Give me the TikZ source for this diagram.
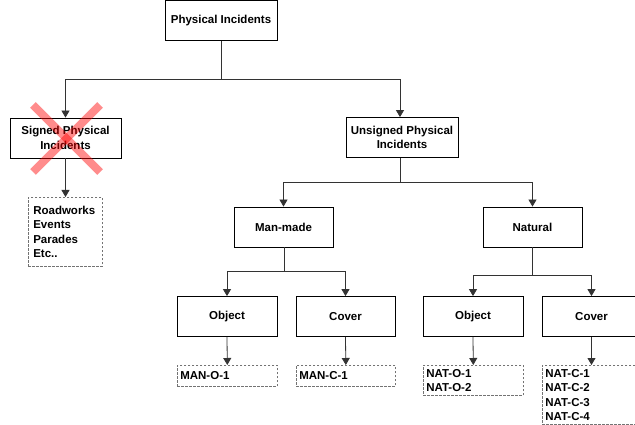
\documentclass[tikz,border=0pt]{standalone}
\usepackage{fontspec}
\setmainfont{Liberation Sans}
\usetikzlibrary{arrows.meta}
\tikzset{
  fnt/.style={font=\bfseries\fontsize{11.5}{14.5}\selectfont},
  box/.style={draw=black, line width=0.8pt, fill=white, fnt, align=center, inner sep=2pt, minimum height=40pt},
  dbox/.style={draw=black!55, line width=0.6pt, dash pattern=on 2.5pt off 1.5pt, fnt, align=left, anchor=north west, inner sep=3pt},
  conn/.style={line width=0.8pt, draw=black!80},
  arr/.style={conn, -{Triangle[length=7pt,width=8pt]}},
  cross/.style={draw=red, opacity=0.45, line width=8pt}
}
\begin{document}
\begin{tikzpicture}[x=1pt,y=-1pt]
\useasboundingbox (0,0) rectangle (635,425);
% main boxes
\node[box, minimum width=112pt] (PI) at (221,20.5) {Physical Incidents};
\node[box, minimum width=111pt] (SPI) at (65.5,138) {Signed Physical\\Incidents};
\node[box, minimum width=112pt] (UPI) at (402,137.5) {Unsigned Physical\\Incidents};
\node[box, minimum width=99pt] (MM) at (283.5,227) {Man-made};
\node[box, minimum width=99pt] (NAT) at (532.5,227) {Natural};
\node[box, minimum width=100pt] (MO) at (227,316.5) {Object};
\node[box, minimum width=99pt] (MC) at (345.5,316.5) {Cover};
\node[box, minimum width=100pt] (NO) at (473,316.5) {Object};
\node[box, minimum width=99pt] (NC) at (591.5,316.5) {Cover};
% dashed lists
\node[dbox, text width=64pt, inner xsep=5pt, minimum height=69pt] (SD) at (28,197) {Roadworks\\Events\\Parades\\Etc..};
\node[dbox, text width=94pt, minimum height=21pt] (MOD) at (177,365) {MAN-O-1};
\node[dbox, text width=93pt, minimum height=21pt] (MCD) at (296,365) {MAN-C-1};
\node[dbox, text width=94pt, minimum height=30pt] (NOD) at (423,365) {NAT-O-1\\NAT-O-2};
\node[dbox, text width=93pt, minimum height=59pt] (NCD) at (542,365) {NAT-C-1\\NAT-C-2\\NAT-C-3\\NAT-C-4};
% junctions
\coordinate (j1) at (221,79);
\coordinate (j2) at (400,182);
\coordinate (j3) at (284,271.5);
\coordinate (j4) at (532,275.5);
% connectors
\draw[conn] (PI.south) -- (j1);
\draw[arr] (j1) -| (SPI.north);
\draw[arr] (j1) -| ([xshift=-2pt]UPI.north);
\draw[conn] ([xshift=-2pt]UPI.south) -- (j2);
\draw[arr] (j2) -| (MM.north);
\draw[arr] (j2) -| (NAT.north);
\draw[conn] (MM.south -| j3) -- (j3);
\draw[arr] (j3) -| (MO.north);
\draw[arr] (j3) -| (MC.north);
\draw[conn] (NAT.south -| j4) -- (j4);
\draw[arr] (j4) -| (NO.north);
\draw[arr] (j4) -| (NC.north);
\draw[arr] (SPI.south) -- (SPI.south |- SD.north);
\draw[arr] (MO.south) -- (MOD.north);
\draw[arr] (MC.south) -- (MCD.north);
\draw[arr] (NO.south) -- (NOD.north);
\draw[arr] (NC.south) -- (NC.south |- NCD.north);
% red cross
\draw[cross] (33,105) -- (100,172);
\draw[cross] (100,105) -- (33,172);
\end{tikzpicture}
\end{document}
